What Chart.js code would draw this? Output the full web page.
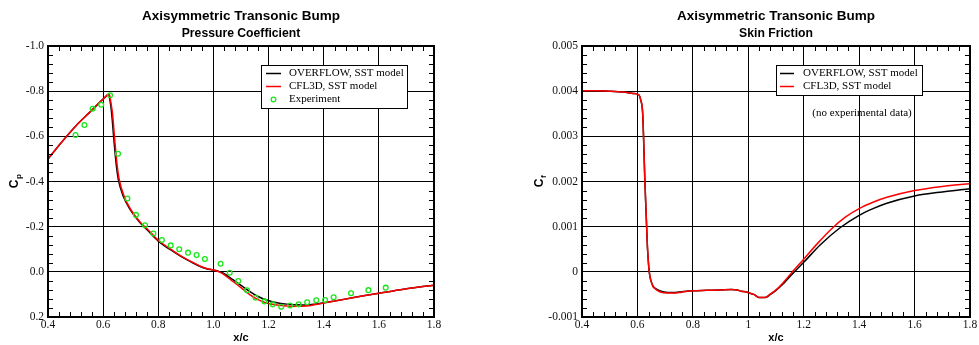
<!DOCTYPE html>
<html><head><meta charset="utf-8">
<script src="https://cdn.jsdelivr.net/npm/chart.js@4.4.1/dist/chart.umd.min.js"></script>
<style>
html,body{margin:0;padding:0;background:#fff;}
#wrap{position:relative;width:979px;height:345px;overflow:hidden;}
.box{position:absolute;top:0;height:345px;}
#b1{left:0;width:490px;} #b2{left:490px;width:489px;}
canvas{display:block;}
</style></head><body>
<div id="wrap"><div class="box" id="b1"><canvas id="c1"></canvas></div><div class="box" id="b2"><canvas id="c2"></canvas></div></div>
<script>
// ---------- Pressure coefficient data ----------
const cpOverflowX = [0.40,0.45,0.50,0.55,0.60,0.620,0.626,0.631,0.639,0.647,0.655,0.673,0.698,0.734,0.76,0.80,0.855,0.885,0.92,0.95,0.975,1.00,1.02,1.036,1.072,1.10,1.133,1.16,1.193,1.23,1.266,1.30,1.338,1.37,1.40,1.45,1.495,1.55,1.616,1.70,1.80];
const cpOverflowY = [-0.50,-0.575,-0.645,-0.705,-0.765,-0.785,-0.75,-0.70,-0.585,-0.48,-0.41,-0.335,-0.276,-0.217,-0.185,-0.136,-0.089,-0.066,-0.043,-0.025,-0.014,-0.008,-0.002,0.006,0.036,0.06,0.088,0.108,0.125,0.137,0.143,0.146,0.147,0.143,0.137,0.127,0.117,0.105,0.092,0.075,0.059];
const cpCfl3dX = [0.40,0.45,0.50,0.55,0.60,0.622,0.628,0.634,0.642,0.650,0.658,0.676,0.700,0.736,0.76,0.80,0.855,0.885,0.92,0.95,0.975,1.00,1.02,1.036,1.072,1.10,1.133,1.16,1.193,1.23,1.266,1.30,1.338,1.37,1.40,1.45,1.495,1.55,1.616,1.70,1.80];
const cpCfl3dY = [-0.50,-0.575,-0.645,-0.705,-0.765,-0.786,-0.75,-0.70,-0.585,-0.48,-0.41,-0.335,-0.276,-0.217,-0.19,-0.14,-0.092,-0.068,-0.045,-0.026,-0.015,-0.008,0.0,0.01,0.044,0.07,0.102,0.122,0.138,0.147,0.151,0.152,0.151,0.145,0.138,0.127,0.117,0.105,0.092,0.075,0.059];
const cpExpX = [0.500,0.532,0.562,0.593,0.625,0.654,0.688,0.719,0.752,0.782,0.813,0.845,0.876,0.908,0.939,0.969,1.026,1.059,1.090,1.122,1.153,1.185,1.215,1.246,1.278,1.309,1.340,1.373,1.405,1.436,1.499,1.562,1.625];
const cpExpY = [-0.606,-0.650,-0.722,-0.740,-0.782,-0.523,-0.325,-0.252,-0.206,-0.170,-0.141,-0.117,-0.100,-0.085,-0.074,-0.057,-0.036,0.004,0.041,0.082,0.115,0.131,0.144,0.155,0.149,0.144,0.135,0.126,0.125,0.113,0.095,0.081,0.070];

// ---------- Skin friction data ----------
const cfOverflowX = [0.40,0.45,0.50,0.55,0.585,0.605,0.612,0.619,0.627,0.636,0.641,0.645,0.655,0.663,0.68,0.71,0.73,0.76,0.80,0.85,0.90,0.94,0.96,0.975,0.99,1.00,1.02,1.04,1.06,1.08,1.10,1.13,1.16,1.20,1.26,1.33,1.40,1.45,1.50,1.60,1.70,1.80];
const cfOverflowY = [0.00401,0.00401,0.00400,0.00398,0.00395,0.00392,0.00380,0.00350,0.00200,0.00056,0.00010,-0.00010,-0.00030,-0.00036,-0.00042,-0.00046,-0.00046,-0.00044,-0.00042,-0.00041,-0.00040,-0.00039,-0.00040,-0.00043,-0.00044,-0.00046,-0.00050,-0.00057,-0.00057,-0.00050,-0.00041,-0.00024,-0.00004,0.00021,0.00060,0.00097,0.00125,0.00140,0.00152,0.00168,0.00177,0.00184];
const cfCfl3dX = [0.40,0.45,0.50,0.55,0.585,0.605,0.612,0.619,0.627,0.636,0.641,0.645,0.655,0.663,0.68,0.71,0.73,0.76,0.80,0.85,0.90,0.94,0.96,0.975,0.99,1.00,1.02,1.04,1.06,1.08,1.10,1.13,1.155,1.20,1.25,1.30,1.35,1.40,1.45,1.50,1.60,1.70,1.80];
const cfCfl3dY = [0.00401,0.00401,0.00400,0.00398,0.00395,0.00392,0.00380,0.00350,0.00200,0.00056,0.00010,-0.00010,-0.00031,-0.00037,-0.00044,-0.00047,-0.00047,-0.00045,-0.00042,-0.00041,-0.00040,-0.00039,-0.00040,-0.00043,-0.00044,-0.00046,-0.00050,-0.00057,-0.00057,-0.00049,-0.00040,-0.00021,-0.00003,0.00028,0.00063,0.00095,0.00121,0.00140,0.00154,0.00165,0.00180,0.00189,0.00195];

// ---------- labels ----------
const seriesNames = ['OVERFLOW, SST model','CFL3D, SST model','Experiment'];
const chartTitle = 'Axisymmetric Transonic Bump';
const subtitles = ['Pressure Coefficient','Skin Friction'];
const xTitle = 'x/c';
const noteText = '(no experimental data)';

const zip = (xs, ys) => xs.map((x, i) => ({x: x, y: ys[i]}));
const SANS = '"Liberation Sans", Arial, Helvetica, sans-serif';
const SERIF = '"Liberation Serif", "Times New Roman", serif';

const deco = {
  id: 'deco',
  afterDraw(chart, args, o) {
    const ctx = chart.ctx, a = chart.chartArea, xs = chart.scales.x, ys = chart.scales.y;
    ctx.save();
    // minor ticks, inward on all four sides
    ctx.strokeStyle = '#000'; ctx.lineWidth = 1;
    const tl = 5;
    ctx.beginPath();
    for (let i = 1; ; i++) {
      const v = xs.min + i * o.xMinor; if (v > xs.max - 1e-9) break; if (i % 5 === 0) continue;
      const p = Math.round(xs.getPixelForValue(v)) + 0.5;
      ctx.moveTo(p, a.bottom); ctx.lineTo(p, a.bottom - tl);
      ctx.moveTo(p, a.top); ctx.lineTo(p, a.top + tl);
    }
    for (let i = 1; ; i++) {
      const v = ys.min + i * o.yMinor; if (v > ys.max - o.yMinor * 1e-6) break; if (i % 5 === 0) continue;
      const p = Math.round(ys.getPixelForValue(v)) + 0.5;
      ctx.moveTo(a.left, p); ctx.lineTo(a.left + tl, p);
      ctx.moveTo(a.right, p); ctx.lineTo(a.right - tl, p);
    }
    ctx.stroke();
    // frame
    ctx.lineWidth = 2;
    ctx.strokeRect(a.left, a.top, a.right - a.left, a.bottom - a.top);
    // titles
    const cx = (a.left + a.right) / 2;
    ctx.fillStyle = '#000'; ctx.textAlign = 'center'; ctx.textBaseline = 'middle';
    ctx.font = 'bold 13.5px ' + SANS; ctx.fillText(o.title, cx, 16);
    ctx.font = 'bold 12.2px ' + SANS; ctx.fillText(o.subtitle, cx, 34);
    ctx.font = 'bold 11px ' + SANS; ctx.fillText(o.xTitle, cx, 338);
    // y title with subscript
    ctx.save();
    ctx.translate(o.yTitleX, (a.top + a.bottom) / 2);
    ctx.rotate(-Math.PI / 2);
    ctx.font = 'bold 12px ' + SANS; const w1 = ctx.measureText(o.yMain).width;
    ctx.font = 'bold 8px ' + SANS; const w2 = ctx.measureText(o.ySub).width;
    const sx = -(w1 + w2) / 2;
    ctx.textAlign = 'left';
    ctx.font = 'bold 12px ' + SANS; ctx.fillText(o.yMain, sx, 0);
    ctx.font = 'bold 8px ' + SANS; ctx.fillText(o.ySub, sx + w1 + 0.5, 4);
    ctx.restore();
    // legend
    const L = o.legend;
    ctx.fillStyle = '#fff'; ctx.fillRect(L.x, L.y, L.w, L.h);
    ctx.lineWidth = 1; ctx.strokeStyle = '#000';
    ctx.strokeRect(L.x + 0.5, L.y + 0.5, L.w, L.h);
    ctx.font = '11px ' + SERIF; ctx.textAlign = 'left'; ctx.textBaseline = 'middle';
    const items = chart.data.datasets.slice().sort((p, q) => p.legendIndex - q.legendIndex);
    items.forEach((ds, i) => {
      const yy = L.y + L.first + i * L.step;
      if (ds.showLine) {
        ctx.strokeStyle = ds.borderColor; ctx.lineWidth = 1.5;
        ctx.beginPath(); ctx.moveTo(L.x + L.s0, yy); ctx.lineTo(L.x + L.s1, yy); ctx.stroke();
      } else {
        ctx.strokeStyle = ds.borderColor; ctx.lineWidth = 1.3;
        ctx.beginPath(); ctx.arc(L.x + (L.s0 + L.s1) / 2, yy, 2.3, 0, Math.PI * 2); ctx.stroke();
      }
      ctx.fillStyle = '#000';
      ctx.fillText(ds.label, L.x + L.tx, yy);
    });
    if (o.note) {
      ctx.textAlign = 'center';
      ctx.fillText(o.note.text, o.note.x, o.note.y);
    }
    ctx.restore();
  }
};

function lineDs(label, data, color, order, li) {
  return {label: label, data: data, showLine: true, borderColor: color, backgroundColor: color,
    borderWidth: 1.5, pointRadius: 0, cubicInterpolationMode: 'monotone', order: order, legendIndex: li};
}

function baseOptions(cfg) {
  return {
    responsive: true, maintainAspectRatio: false, animation: false,
    layout: {padding: {top: 46, left: 0, right: cfg.padRight, bottom: 0}},
    plugins: {legend: {display: false}, title: {display: false}, tooltip: {enabled: false}, deco: cfg.deco},
    scales: {
      x: {
        type: 'linear', min: 0.4, max: 1.8,
        afterFit: s => { s.height = 28; },
        ticks: {stepSize: 0.2, autoSkip: false, maxRotation: 0, padding: 1, color: '#111',
          font: {family: SERIF, size: 11.5}, callback: cfg.xFmt},
        grid: {color: '#000', lineWidth: 1, drawTicks: false},
        border: {display: false}
      },
      y: {
        type: 'linear', min: cfg.yMin, max: cfg.yMax, reverse: cfg.reverse,
        afterFit: s => { s.width = cfg.yWidth; },
        ticks: {stepSize: cfg.yStep, autoSkip: false, padding: 4, color: '#111',
          font: {family: SERIF, size: 11.5}, callback: cfg.yFmt},
        grid: {color: '#000', lineWidth: 1, drawTicks: false},
        border: {display: false}
      }
    }
  };
}

new Chart(document.getElementById('c1'), {
  type: 'scatter',
  data: {datasets: [
    {label: seriesNames[2], data: zip(cpExpX, cpExpY), showLine: false, pointRadius: 2.4, pointBorderWidth: 1.3,
      pointBackgroundColor: 'rgba(0,0,0,0)', borderColor: '#19e619', pointBorderColor: '#19e619', order: 0, legendIndex: 2},
    lineDs(seriesNames[1], zip(cpCfl3dX, cpCfl3dY), '#ff0000', 1, 1),
    lineDs(seriesNames[0], zip(cpOverflowX, cpOverflowY), '#000000', 2, 0)
  ]},
  options: baseOptions({
    padRight: 56, yWidth: 48, yMin: -1.0, yMax: 0.2, yStep: 0.2, reverse: true,
    xFmt: v => (Math.abs(v) < 1e-9 ? 0 : v).toFixed(1),
    yFmt: v => (Math.abs(v) < 1e-9 ? 0 : v).toFixed(1),
    deco: {title: chartTitle, subtitle: subtitles[0], xTitle: xTitle, yMain: 'C', ySub: 'p', yTitleX: 15,
      xMinor: 0.04, yMinor: 0.04,
      legend: {x: 261, y: 65, w: 146, h: 43, first: 8.5, step: 13, s0: 5, s1: 20, tx: 28}}
  }),
  plugins: [deco]
});

new Chart(document.getElementById('c2'), {
  type: 'scatter',
  data: {datasets: [
    lineDs(seriesNames[1], zip(cfCfl3dX, cfCfl3dY), '#ff0000', 1, 1),
    lineDs(seriesNames[0], zip(cfOverflowX, cfOverflowY), '#000000', 2, 0)
  ]},
  options: baseOptions({
    padRight: 9, yWidth: 92, yMin: -0.001, yMax: 0.005, yStep: 0.001, reverse: false,
    xFmt: v => String(parseFloat(v.toFixed(1))),
    yFmt: v => Math.abs(v) < 1e-9 ? '0' : v.toFixed(3),
    deco: {title: chartTitle, subtitle: subtitles[1], xTitle: xTitle, yMain: 'C', ySub: 'f', yTitleX: 50,
      xMinor: 0.04, yMinor: 0.0002,
      legend: {x: 286, y: 65, w: 146, h: 30, first: 8.5, step: 13, s0: 4, s1: 18, tx: 27},
      note: {text: noteText, x: 372, y: 113}}
  }),
  plugins: [deco]
});
</script>
</body></html>
